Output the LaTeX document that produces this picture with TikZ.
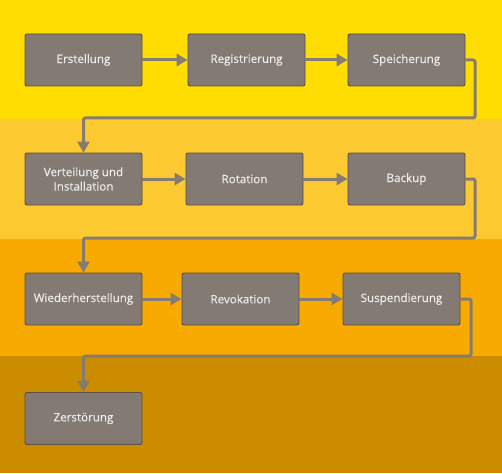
\documentclass[tikz,border=0pt]{standalone}
\usepackage{fontspec}
\setmainfont{Open Sans}[BoldFont={Open Sans},BoldFeatures={FakeBold=0.35}]
\usetikzlibrary{arrows.meta}

\definecolor{bandA}{HTML}{FFDD00}
\definecolor{bandB}{HTML}{FCCA30}
\definecolor{bandC}{HTML}{F9AA00}
\definecolor{bandD}{HTML}{CB8C00}
\definecolor{boxfill}{HTML}{827A73}
\definecolor{boxline}{HTML}{5A5043}
\definecolor{flowgray}{HTML}{857B73}

\tikzset{
  stage/.style={draw=boxline,fill=boxfill,line width=0.9pt,rounded corners=2pt,
    minimum width=117pt,minimum height=52pt,align=center,
    text=white!93!black,font=\fontsize{11.6}{14.4}\selectfont\bfseries,inner sep=2pt},
  flow/.style={draw=flowgray,line width=3pt,rounded corners=2pt,
    -{Triangle[length=11pt,width=12pt]}}
}

\begin{document}
\begin{tikzpicture}[x=1pt,y=-1pt]
  % bands
  \fill[bandA] (0,0) rectangle (502,119);
  \fill[bandB] (0,119) rectangle (502,239);
  \fill[bandC] (0,239) rectangle (502,356);
  \fill[bandD] (0,356) rectangle (502,473);
  \useasboundingbox (0,0) rectangle (502,473);

  % row 1
  \node [stage] (erst) at (83.5,60) {Erstellung};
  \node [stage] (regi) at (246.5,60) {Registrierung};
  \node [stage] (spei) at (406.5,60) {Speicherung};
  % row 2
  \node [stage] (vert) at (83.5,179) {Verteilung und\\Installation};
  \node [stage] (rota) at (244.5,179) {Rotation};
  \node [stage] (back) at (406.5,179) {Backup};
  % row 3
  \node [stage] (wied) at (83.5,299) {Wiederherstellung};
  \node [stage] (revo) at (240.5,299) {Revokation};
  \node [stage] (susp) at (401.5,299) {Suspendierung};
  % row 4
  \node [stage] (zers) at (83.5,418.5) {Zerstörung};

  \coordinate (turnA) at (475,118);
  \coordinate (turnB) at (475,238);
  \coordinate (turnC) at (471,356);

  \draw[flow] (erst) -- (regi);
  \draw[flow] (regi) -- (spei);
  \draw[flow] (spei.east) -| (turnA) -| (vert.north);
  \draw[flow] (vert) -- (rota);
  \draw[flow] (rota) -- (back);
  \draw[flow] (back.east) -| (turnB) -| (wied.north);
  \draw[flow] (wied) -- (revo);
  \draw[flow] (revo) -- (susp);
  \draw[flow] (susp.east) -| (turnC) -| (zers.north);
\end{tikzpicture}
\end{document}
